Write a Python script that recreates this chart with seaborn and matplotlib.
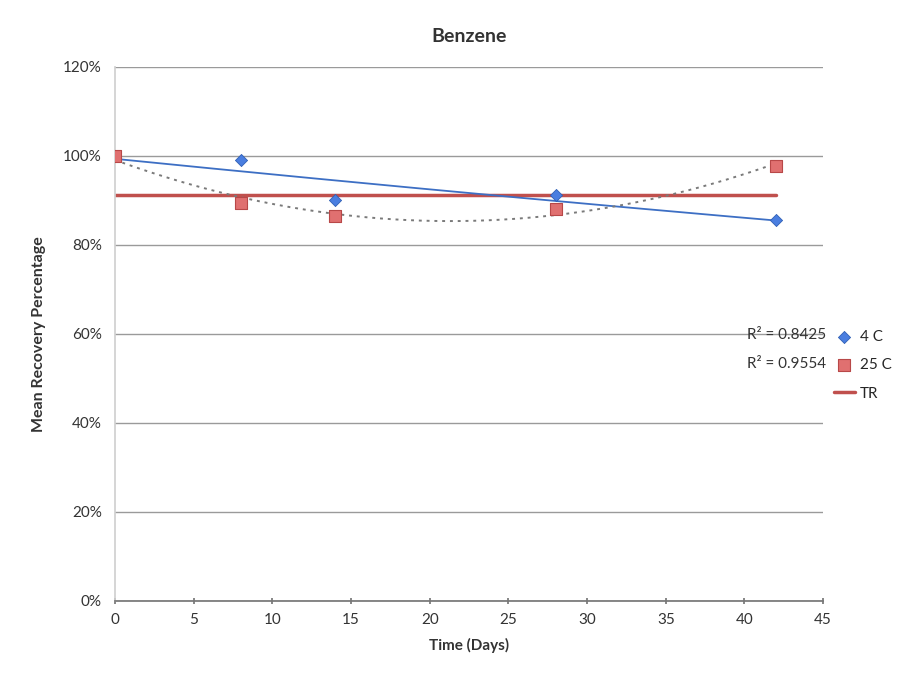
import matplotlib
matplotlib.use("Agg")
import numpy as np
import pandas as pd
import matplotlib.pyplot as plt
import seaborn as sns
from matplotlib.ticker import PercentFormatter

# values
days = [0, 8, 14, 28, 42]
rec_4c = [100.0, 99.0, 90.1, 91.2, 85.6]
rec_25c = [100.0, 89.4, 86.5, 88.1, 97.8]
tr_level = 91.2
r2_4c = "R² = 0.8425"
r2_25c = "R² = 0.9554"

sns.set_theme(style="white")
plt.rcParams["font.family"] = ["Lato", "DejaVu Sans"]

fig = plt.figure(figsize=(9.23, 6.76), dpi=100)
ax = fig.add_axes([0.1246, 0.111, 0.7672, 0.79])

df = pd.DataFrame({"day": days, "4 C": rec_4c, "25 C": rec_25c})

# trendlines: exponential for 4 C, polynomial (order 2) for 25 C
grid = np.linspace(min(days), max(days), 200)
b, a = np.polyfit(df["day"], np.log(df["4 C"]), 1)
fit4 = np.exp(a + b * grid)
fit25 = np.polyval(np.polyfit(df["day"], df["25 C"], 2), grid)
sns.lineplot(x=grid, y=fit4, ax=ax, color="#3d6fc4", linewidth=1.3, zorder=3)
sns.lineplot(x=grid, y=fit25, ax=ax, color="#7a7a7a", linewidth=1.4,
             linestyle=(0, (1.5, 2.5)), zorder=3)

tr = pd.DataFrame({"day": [min(days), max(days)], "v": [tr_level, tr_level]})
sns.lineplot(data=tr, x="day", y="v", ax=ax, color="#c0504d", linewidth=2.5,
             zorder=2, label="TR")

sns.scatterplot(data=df, x="day", y="4 C", ax=ax, marker="D", s=38,
                color="#4a7ee0", edgecolor="#2f5fb5", linewidth=0.6,
                zorder=5, label="4 C")
sns.scatterplot(data=df, x="day", y="25 C", ax=ax, marker="s", s=80,
                color="#e07070", edgecolor="#b84848", linewidth=0.8,
                zorder=5, label="25 C")

ax.set_xlim(0, 45)
ax.set_ylim(0, 120)
ax.set_xticks(range(0, 46, 5))
ax.set_yticks(range(0, 121, 20))
ax.yaxis.set_major_formatter(PercentFormatter(decimals=0))
ax.grid(axis="y", color="#9a9a9a", linewidth=1.0)
for s in ["top", "right"]:
    ax.spines[s].set_visible(False)
ax.spines["left"].set_color("#d0d0d0")
ax.spines["bottom"].set_color("#777777")
ax.tick_params(axis="both", labelsize=11, colors="#333333")
ax.tick_params(axis="x", direction="inout", length=5, bottom=True,
               color="#777777", pad=6)

ax.set_title("Benzene", fontsize=14, fontweight="bold", color="#333333", pad=18)
ax.set_xlabel("Time (Days)", fontsize=11, fontweight="bold", color="#333333", labelpad=8)
ax.set_ylabel("Mean Recovery Percentage", fontsize=11.5, fontweight="bold",
              color="#333333", labelpad=12)

h, l = ax.get_legend_handles_labels()
order = [l.index("4 C"), l.index("25 C"), l.index("TR")]
leg = ax.legend([h[i] for i in order], [l[i] for i in order],
                loc="upper left", bbox_to_anchor=(826 / 923, 1 - 322 / 676),
                bbox_transform=fig.transFigure, frameon=False, borderpad=0,
                fontsize=11, handlelength=1.4, handletextpad=0.3,
                labelspacing=0.95)

fig.text(0.895, 1 - 335 / 676, r2_4c, ha="right", va="center", fontsize=11,
         color="#333333")
fig.text(0.895, 1 - 364 / 676, r2_25c, ha="right", va="center", fontsize=11,
         color="#333333")

fig.savefig("out.png", dpi=100)
